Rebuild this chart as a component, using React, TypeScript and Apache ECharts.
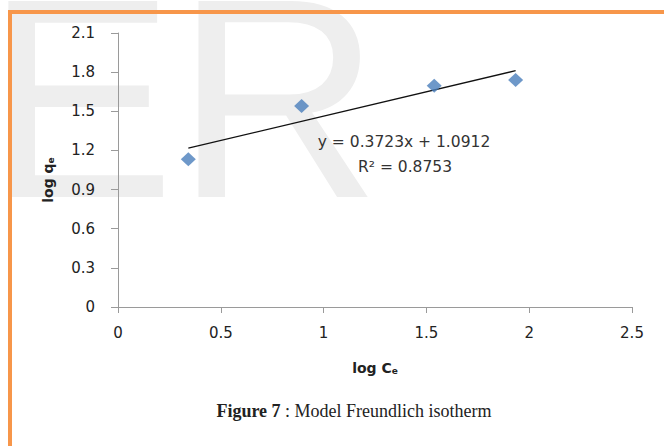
import React, { useEffect, useRef } from "react";
import * as echarts from "echarts";

const xValues = [0.342, 0.893, 1.538, 1.934];
const yValues = [1.132, 1.54, 1.696, 1.739];
const trendX = [0.342, 1.934];
const trendY = [1.218, 1.811];
const equationText = "y = 0.3723x + 1.0912";
const r2Text = "R² = 0.8753";
const xAxisTitle = "log C";
const yAxisTitle = "log q";
const subscript = "e";
const captionBold = "Figure 7";
const captionRest = " : Model Freundlich isotherm";
const watermark = "ER";

export default function App() {
  const ref = useRef<HTMLDivElement>(null);
  useEffect(() => {
    document.body.style.margin = "0";
    const chart = echarts.init(ref.current!, null, { renderer: "svg" });
    const font = '"DejaVu Sans", sans-serif';
    const points = xValues.map((x, i) => [x, yValues[i]]);
    const trend = trendX.map((x, i) => [x, trendY[i]]);
    chart.setOption({
      animation: false,
      backgroundColor: "#ffffff",
      grid: { left: 118, right: 32, top: 33, bottom: 139, containLabel: false },
      xAxis: {
        type: "value",
        min: 0,
        max: 2.5,
        interval: 0.5,
        name: `{a|${xAxisTitle}}{b|${subscript}}`,
        nameLocation: "middle",
        nameGap: 50,
        nameTextStyle: {
          rich: {
            a: { fontFamily: font, fontWeight: "bold", fontSize: 14, color: "#222", lineHeight: 18, verticalAlign: "bottom" },
            b: { fontFamily: font, fontWeight: "bold", fontSize: 9, color: "#222", lineHeight: 11, verticalAlign: "bottom" },
          },
        },
        axisLine: { show: true, lineStyle: { color: "#9a9a9a", width: 1 } },
        axisTick: { show: true, length: 6, lineStyle: { color: "#9a9a9a" } },
        splitLine: { show: false },
        axisLabel: {
          margin: 18,
          fontFamily: font,
          fontSize: 15,
          color: "#222",
          formatter: (v: number) => (v === 0 ? "0" : String(Math.round(v * 10) / 10)),
        },
      },
      yAxis: {
        type: "value",
        min: 0,
        max: 2.1,
        interval: 0.3,
        axisLine: { show: true, onZero: false, lineStyle: { color: "#9a9a9a", width: 1 } },
        axisTick: { show: true, length: 7, lineStyle: { color: "#9a9a9a" } },
        splitLine: { show: false },
        axisLabel: {
          margin: 23,
          fontFamily: font,
          fontSize: 15,
          color: "#222",
          formatter: (v: number) => (v === 0 ? "0" : (Math.round(v * 10) / 10).toFixed(1)),
        },
      },
      series: [
        {
          type: "line",
          data: trend,
          symbol: "none",
          lineStyle: { color: "#111", width: 1.3 },
          z: 2,
        },
        {
          type: "scatter",
          data: points,
          symbol: "diamond",
          symbolSize: [15, 14],
          itemStyle: { color: "#4a7ebb" },
          z: 3,
        },
      ],
      graphic: [
        {
          type: "text",
          z: -10,
          silent: true,
          style: {
            text: watermark,
            x: -15,
            y: 98,
            font: '285px "Liberation Sans"',
            fill: "#eeeeee",
            textVerticalAlign: "middle",
          },
        },
        {
          type: "text",
          z: 10,
          style: {
            text: equationText,
            x: 404,
            y: 142,
            font: '15.5px "DejaVu Sans"',
            fill: "#333",
            textAlign: "center",
            textVerticalAlign: "middle",
          },
        },
        {
          type: "text",
          z: 10,
          style: {
            text: r2Text,
            x: 405,
            y: 167,
            font: '15.5px "DejaVu Sans"',
            fill: "#333",
            textAlign: "center",
            textVerticalAlign: "middle",
          },
        },
        {
          type: "text",
          z: 10,
          x: 46,
          y: 180,
          rotation: Math.PI / 2,
          style: {
            text: `{a|${yAxisTitle}}{b|${subscript}}`,
            textAlign: "center",
            textVerticalAlign: "middle",
            rich: {
              a: { fontFamily: font, fontWeight: "bold", fontSize: 14, fill: "#222", lineHeight: 18, verticalAlign: "bottom" },
              b: { fontFamily: font, fontWeight: "bold", fontSize: 9, fill: "#222", lineHeight: 11, verticalAlign: "bottom" },
            },
          },
        },
        {
          type: "text",
          z: 10,
          style: {
            text: `{a|${captionBold}}{b|${captionRest}}`,
            x: 354,
            y: 411,
            textAlign: "center",
            textVerticalAlign: "middle",
            rich: {
              a: { fontFamily: '"Liberation Serif", serif', fontWeight: "bold", fontSize: 18, fill: "#222" },
              b: { fontFamily: '"Liberation Serif", serif', fontSize: 18, fill: "#222" },
            },
          },
        },
        { type: "rect", z: 20, shape: { x: 8, y: 10, width: 656, height: 4 }, style: { fill: "#f7964a" } },
        { type: "rect", z: 20, shape: { x: 8, y: 10, width: 4, height: 436 }, style: { fill: "#f7964a" } },
      ],
    });
    return () => chart.dispose();
  }, []);
  return <div ref={ref} style={{ width: 664, height: 446 }} />;
}
